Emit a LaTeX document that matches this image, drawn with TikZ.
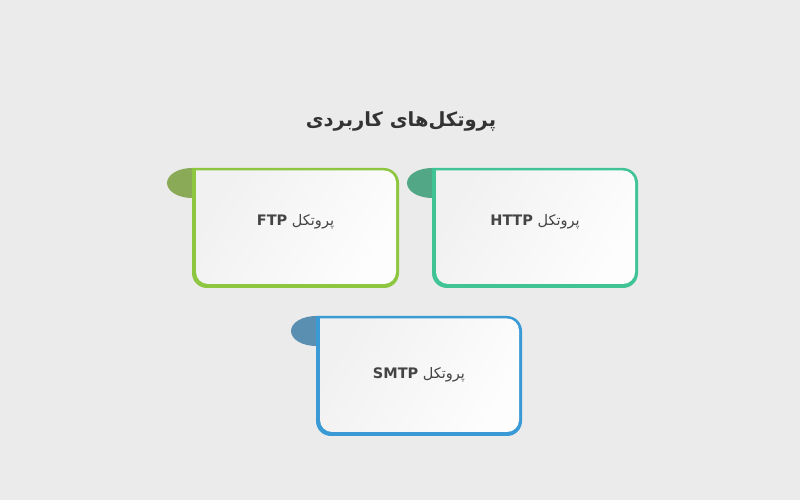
\documentclass[tikz,border=0pt]{standalone}
\usepackage{fontspec}
\TeXXeTstate=1
\newfontfamily\arabicfont[Script=Arabic]{DejaVu Sans}
\definecolor{bg}{HTML}{EBEBEB}
\definecolor{txt}{HTML}{333333}
\definecolor{lbl}{HTML}{444444}
\definecolor{ftpB}{HTML}{8DC63F}
\definecolor{ftpT}{HTML}{8AAA58}
\definecolor{httpB}{HTML}{40C496}
\definecolor{httpT}{HTML}{52A886}
\definecolor{smtpB}{HTML}{3A9AD5}
\definecolor{smtpT}{HTML}{5A8FB2}
\definecolor{inA}{HTML}{F1F1F1}
\definecolor{inB}{HTML}{FDFDFD}
\tikzset{
  lbltext/.style={text=lbl, font=\arabicfont\fontsize{14.5}{17}\selectfont, inner sep=0pt},
  titletext/.style={text=txt, font=\arabicfont\bfseries\fontsize{19.5}{23}\selectfont, inner sep=0pt},
}
% #1 left, #2 right, #3 top(Y), #4 bottom(Y), #5 border colour, #6 tab colour
\newcommand\protobox[6]{%
  \fill[#6] (#1,#3-15) ellipse [x radius=25, y radius=15];
  \fill[#5] (#1,#3) -- (#2-15,#3) arc[start angle=90,end angle=0,radius=15]
     -- (#2,#4+15) arc[start angle=0,end angle=-90,radius=15]
     -- (#1+15,#4) arc[start angle=-90,end angle=-180,radius=15] -- cycle;
  \shade[left color=inA, right color=inB, shading angle=60]
     (#1+4,#3-2.5) -- (#2-3-12,#3-2.5) arc[start angle=90,end angle=0,radius=12]
     -- (#2-3,#4+4+12) arc[start angle=0,end angle=-90,radius=12]
     -- (#1+4+12,#4+4) arc[start angle=-90,end angle=-180,radius=12] -- cycle;
}
\begin{document}
\begin{tikzpicture}[x=1pt,y=1pt]
\fill[bg] (0,0) rectangle (800,500);
\useasboundingbox (0,0) rectangle (800,500);
\node[titletext] (title) at (401,379) {\beginR پروتکل‌های کاربردی\endR};
\protobox{192}{399}{332}{212}{ftpB}{ftpT}
\protobox{432}{638}{332}{212}{httpB}{httpT}
\protobox{316}{522}{184}{64}{smtpB}{smtpT}
\node[lbltext] (ftp) at (295.5,278) {\beginR پروتکل \beginL\textbf{FTP}\endL\endR};
\node[lbltext] (http) at (535,278) {\beginR پروتکل \beginL\textbf{HTTP}\endL\endR};
\node[lbltext] (smtp) at (419,125) {\beginR پروتکل \beginL\textbf{SMTP}\endL\endR};
\end{tikzpicture}
\end{document}
